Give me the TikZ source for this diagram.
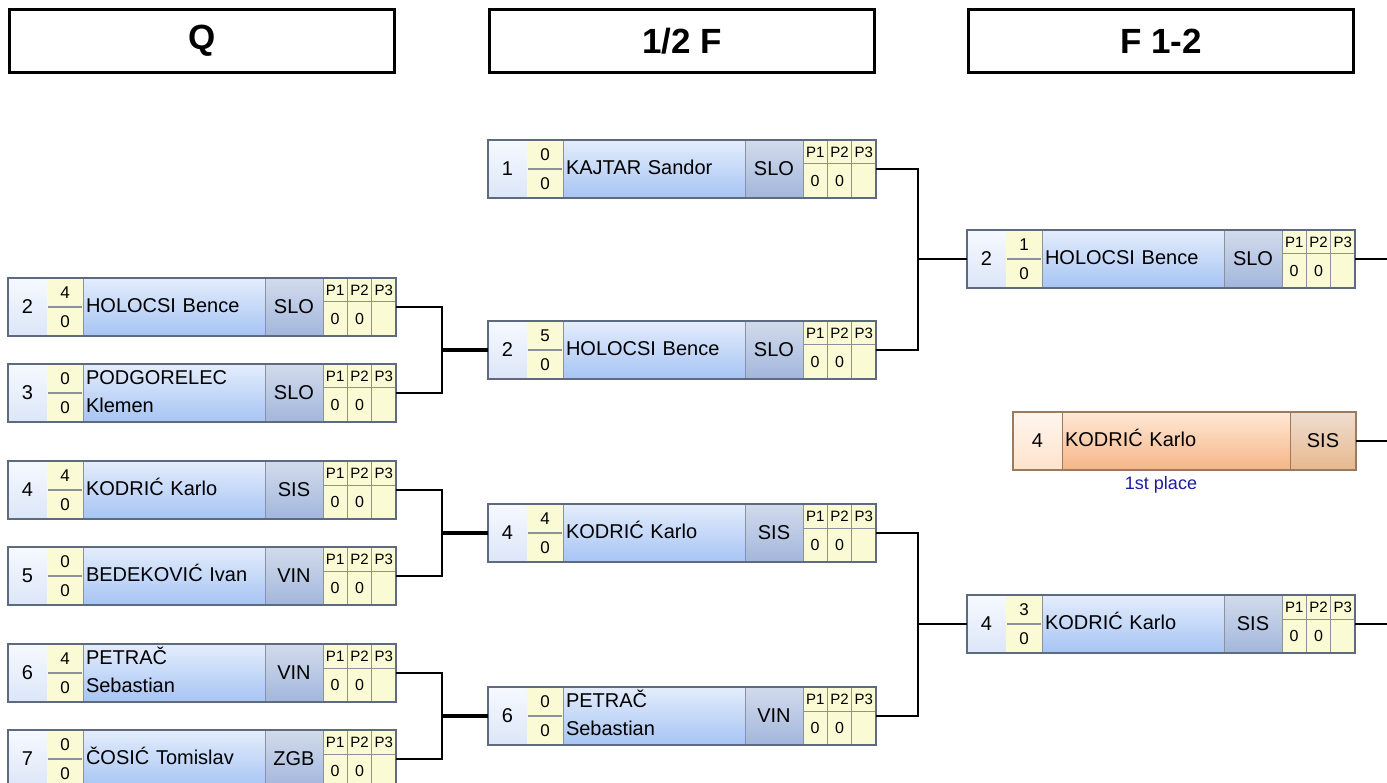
\documentclass[tikz,border=0pt]{standalone}
\usepackage{fontspec}
\setmainfont{Liberation Sans}
\usetikzlibrary{positioning,fit}
\definecolor{edgeblue}{HTML}{5E6A80}
\definecolor{cellgray}{HTML}{8C929C}
\definecolor{pale}{HTML}{FAFAD4}
\definecolor{seedtop}{HTML}{F6F9FF}
\definecolor{seedbot}{HTML}{DCE6F8}
\definecolor{nametop}{HTML}{E4EDFC}
\definecolor{namebot}{HTML}{A6C4F4}
\definecolor{clubtop}{HTML}{D2DBEC}
\definecolor{clubbot}{HTML}{A2B6DC}
\definecolor{wedge}{HTML}{9C7A5C}
\definecolor{wseedtop}{HTML}{FFF6EE}
\definecolor{wseedbot}{HTML}{FFE2CC}
\definecolor{wnametop}{HTML}{FFE9D6}
\definecolor{wnamebot}{HTML}{F6B486}
\definecolor{wclubtop}{HTML}{EEDDD0}
\definecolor{wclubbot}{HTML}{E8B88E}
\definecolor{placeblue}{HTML}{1C1C9C}
\tikzset{
  headbox/.style={draw=black, line width=3pt, minimum width=385pt, minimum height=63pt,
    inner sep=0pt, outer sep=0pt, font=\bfseries\fontsize{35}{40}\selectfont},
  cell/.style={draw=cellgray, line width=1pt, inner sep=0pt, outer sep=0pt, minimum height=58pt},
  seedcell/.style={cell, minimum width=39pt, top color=seedtop, bottom color=seedbot,
    font=\fontsize{20}{24}\selectfont},
  scorecell/.style={inner sep=0pt, outer sep=0pt, fill=pale, minimum width=36pt,
    minimum height=29pt, font=\fontsize{17}{20}\selectfont},
  namecell/.style={cell, text width=176pt, inner xsep=3pt, align=left,
    top color=nametop, bottom color=namebot, font=\fontsize{20}{28}\selectfont,
    execute at begin node=\strut, execute at end node=\strut},
  clubcell/.style={cell, minimum width=58pt, top color=clubtop, bottom color=clubbot,
    font=\fontsize{20}{24}\selectfont},
  pthead/.style={draw=cellgray, line width=1pt, fill=pale, inner sep=0pt, outer sep=0pt,
    minimum width=24.33pt, minimum height=24pt, font=\fontsize{15}{18}\selectfont},
  ptval/.style={pthead, minimum height=34pt, font=\fontsize{16}{18}\selectfont},
  boxedge/.style={draw=edgeblue, line width=2pt, inner sep=0pt, outer sep=0pt},
  wseed/.style={cell, draw=wedge, minimum width=49pt, top color=wseedtop, bottom color=wseedbot,
    font=\fontsize{20}{24}\selectfont},
  wname/.style={cell, draw=wedge, text width=222pt, inner xsep=3pt, align=left,
    top color=wnametop, bottom color=wnamebot, font=\fontsize{20}{28}\selectfont,
    execute at begin node=\strut, execute at end node=\strut},
  wclub/.style={cell, draw=wedge, minimum width=66pt, top color=wclubtop, bottom color=wclubbot,
    font=\fontsize{20}{24}\selectfont},
  link/.style={draw=black, line width=2pt},
  feed/.style={draw=black, line width=3.5pt}
}
% #1 id, (#2,#3) top left, #4 seed, #5/#6 score, #7 name, #8 club
\newcommand{\matchbox}[8]{%
  \node[seedcell, anchor=north west] (#1-no) at (#2,#3) {#4};
  \node[scorecell, anchor=north west] (#1-s1) at (#1-no.north east) {#5};
  \node[scorecell, below=0pt of #1-s1] (#1-s2) {#6};
  \draw[cellgray, line width=1.5pt] ([xshift=1pt]#1-s1.south west) -- ([xshift=-1pt]#1-s1.south east);
  \node[namecell, anchor=north west] (#1-nm) at (#1-s1.north east) {#7};
  \node[clubcell, right=0pt of #1-nm] (#1-cl) {#8};
  \node[pthead, anchor=north west] (#1-h1) at (#1-cl.north east) {P1};
  \node[pthead, right=0pt of #1-h1] (#1-h2) {P2};
  \node[pthead, right=0pt of #1-h2] (#1-h3) {P3};
  \node[ptval, below=0pt of #1-h1] (#1-v1) {0};
  \node[ptval, below=0pt of #1-h2] (#1-v2) {0};
  \node[ptval, below=0pt of #1-h3] (#1-v3) {};
  \node[boxedge, fit=(#1-no)(#1-v3)] (#1) {};
}
\newcommand{\placebox}[6]{%
  \node[wseed, anchor=north west] (#1-no) at (#2,#3) {#4};
  \node[wname, right=0pt of #1-no] (#1-nm) {#5};
  \node[wclub, right=0pt of #1-nm] (#1-cl) {#6};
  \node[boxedge, draw=wedge, fit=(#1-no)(#1-cl)] (#1) {};
}

\begin{document}
\begin{tikzpicture}[x=1pt, y=-1pt]
  \useasboundingbox (0,0) rectangle (1387,783);
  \coordinate (rim) at (1387,0);

  % round headers
  \node[headbox] (hq) at (202,41) {Q};
  \node[headbox] (hs) at (682,41) {1/2 F};
  \node[headbox] (hf) at (1161,41) {F 1-2};

  % quarter finals
  \matchbox{qa}{8}{278}{2}{4}{0}{HOLOCSI Bence}{SLO}
  \matchbox{qb}{8}{364}{3}{0}{0}{PODGORELEC\\Klemen}{SLO}
  \matchbox{qc}{8}{461}{4}{4}{0}{KODRIĆ Karlo}{SIS}
  \matchbox{qd}{8}{547}{5}{0}{0}{BEDEKOVIĆ Ivan}{VIN}
  \matchbox{qe}{8}{644}{6}{4}{0}{PETRAČ\\Sebastian}{VIN}
  \matchbox{qf}{8}{730}{7}{0}{0}{ČOSIĆ Tomislav}{ZGB}

  % semi finals
  \matchbox{sa}{488}{140}{1}{0}{0}{KAJTAR Sandor}{SLO}
  \matchbox{sb}{488}{321}{2}{5}{0}{HOLOCSI Bence}{SLO}
  \matchbox{sc}{488}{504}{4}{4}{0}{KODRIĆ Karlo}{SIS}
  \matchbox{sd}{488}{687}{6}{0}{0}{PETRAČ\\Sebastian}{VIN}

  % final
  \matchbox{fa}{967}{230}{2}{1}{0}{HOLOCSI Bence}{SLO}
  \matchbox{fb}{967}{595}{4}{3}{0}{KODRIĆ Karlo}{SIS}
  \placebox{win}{1013}{412}{4}{KODRIĆ Karlo}{SIS}
  \node[below=6pt of win-nm.south, xshift=-15pt, inner sep=0pt, text=placeblue,
    font=\fontsize{18}{20}\selectfont] (winlabel) {1st place};

  % joins
  \path (sb.west) ++(-46,0) coordinate (ja);
  \path (sc.west) ++(-46,0) coordinate (jb);
  \path (sd.west) ++(-46,0) coordinate (jc);
  \path (fa.west) ++(-49,0) coordinate (ka);
  \path (fb.west) ++(-49,0) coordinate (kb);

  \draw[link] (qa.east) -| (ja) |- (qb.east);
  \draw[link] (qc.east) -| (jb) |- (qd.east);
  \draw[link] (qe.east) -| (jc) |- (qf.east);
  \draw[feed] (ja) -- (sb.west);
  \draw[feed] (jb) -- (sc.west);
  \draw[feed] (jc) -- (sd.west);

  \draw[link] (sa.east) -| (ka) |- (sb.east);
  \draw[link] (sc.east) -| (kb) |- (sd.east);
  \draw[link] (ka) -- (fa.west);
  \draw[link] (kb) -- (fb.west);

  \draw[link] (fa.east) -- (fa.east -| rim);
  \draw[link] (win.east) -- (win.east -| rim);
  \draw[link] (fb.east) -- (fb.east -| rim);
\end{tikzpicture}
\end{document}
